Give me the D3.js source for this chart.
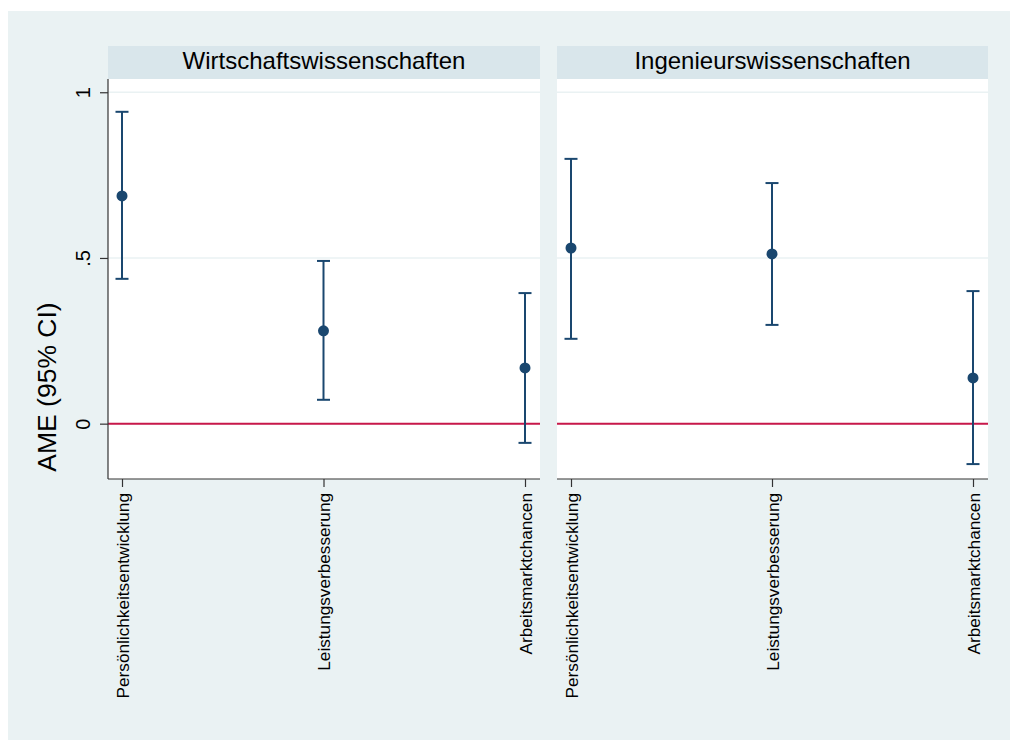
<!DOCTYPE html>
<html><head><meta charset="utf-8">
<script src="https://cdn.jsdelivr.net/npm/d3@7"></script>
<style>body{margin:0;background:#fff}svg{display:block}text{font-family:"Liberation Sans",Arial,sans-serif}</style>
</head><body><svg id="c" width="1010" height="740"></svg>
<script>
const panels = ["Wirtschaftswissenschaften", "Ingenieurswissenschaften"];
const categories = ["Persönlichkeitsentwicklung", "Leistungsverbesserung", "Arbeitsmarktchancen"];
const estWiwi = [0.687, 0.280, 0.168];
const lowWiwi = [0.437, 0.072, -0.058];
const highWiwi = [0.941, 0.491, 0.394];
const estIng = [0.530, 0.512, 0.138];
const lowIng = [0.256, 0.298, -0.122];
const highIng = [0.799, 0.726, 0.400];
const yTicks = [0, 0.5, 1];
const yTickLabels = ["0", ".5", "1"];
const yTitle = "AME (95% CI)";

const series = [
  {est: estWiwi, low: lowWiwi, high: highWiwi},
  {est: estIng, low: lowIng, high: highIng}
];

const svg = d3.select("#c");
const navy = "#1a476f";
svg.append("rect").attr("x", 8).attr("y", 11).attr("width", 1002).attr("height", 729).attr("fill", "#eaf2f3");

const plotTop = 79, plotBottom = 479;
const y = d3.scaleLinear().domain([-0.167, 1.04]).range([plotBottom, plotTop]);
const panelX = [[108, 540], [557, 988]];

panelX.forEach(([x0, x1], pi) => {
  const g = svg.append("g");
  g.append("rect").attr("x", x0).attr("y", 46).attr("width", x1 - x0).attr("height", plotTop - 46).attr("fill", "#d9e6eb");
  g.append("text").attr("x", (x0 + x1) / 2).attr("y", 61).attr("dy", "0.35em").attr("text-anchor", "middle")
    .attr("font-size", 24).attr("fill", "#000").text(panels[pi]);
  g.append("rect").attr("x", x0).attr("y", plotTop).attr("width", x1 - x0).attr("height", plotBottom - plotTop).attr("fill", "#fff");
  g.selectAll(".grid").data(yTicks).join("line")
    .attr("x1", x0).attr("x2", x1).attr("y1", d => y(d)).attr("y2", d => y(d))
    .attr("stroke", "#eaf2f3").attr("stroke-width", 1.5);
  g.append("line").attr("x1", x0).attr("x2", x1).attr("y1", y(0)).attr("y2", y(0))
    .attr("stroke", "#c8184a").attr("stroke-width", 2);

  const x = d3.scalePoint().domain(categories).range([x0 + 14, x1 - 15]);

  const xa = g.append("g").attr("transform", `translate(0,${plotBottom})`)
    .call(d3.axisBottom(x).tickSize(8).tickSizeOuter(0).tickPadding(4));
  xa.select(".domain").attr("stroke", "#333").attr("stroke-width", 1.2).attr("d", `M${x0},0H${x1}`);
  xa.selectAll(".tick line").attr("stroke", "#333").attr("stroke-width", 1.2);
  xa.selectAll(".tick text").attr("font-size", 17.2).attr("fill", "#000").attr("font-family", '"Liberation Sans",Arial,sans-serif')
    .attr("text-anchor", "end").attr("transform", "rotate(-90)").attr("x", -14).attr("y", 0).attr("dy", "0.35em");

  if (pi === 0) {
    const ya = g.append("g").attr("transform", `translate(${x0},0)`)
      .call(d3.axisLeft(y).tickValues(yTicks).tickFormat((d, i) => yTickLabels[i]).tickSize(8).tickSizeOuter(0).tickPadding(4));
    ya.select(".domain").attr("stroke", "#333").attr("stroke-width", 1.2).attr("d", `M0,${plotTop}V${plotBottom}`);
    ya.selectAll(".tick line").attr("stroke", "#333").attr("stroke-width", 1.2);
    ya.selectAll(".tick text").attr("font-size", 20).attr("fill", "#000").attr("font-family", '"Liberation Sans",Arial,sans-serif')
      .attr("text-anchor", "middle").attr("transform", "rotate(-90)").attr("x", 0).attr("y", -25).attr("dy", "0.35em");
  }

  const s = series[pi];
  const data = categories.map((c, i) => ({c, est: s.est[i], low: s.low[i], high: s.high[i]}));
  const cap = 6.5;
  g.selectAll(".ci").data(data).join("line")
    .attr("x1", d => x(d.c)).attr("x2", d => x(d.c)).attr("y1", d => y(d.low)).attr("y2", d => y(d.high))
    .attr("stroke", navy).attr("stroke-width", 2);
  g.selectAll(".capH").data(data).join("line")
    .attr("x1", d => x(d.c) - cap).attr("x2", d => x(d.c) + cap).attr("y1", d => y(d.high)).attr("y2", d => y(d.high))
    .attr("stroke", navy).attr("stroke-width", 2);
  g.selectAll(".capL").data(data).join("line")
    .attr("x1", d => x(d.c) - cap).attr("x2", d => x(d.c) + cap).attr("y1", d => y(d.low)).attr("y2", d => y(d.low))
    .attr("stroke", navy).attr("stroke-width", 2);
  g.selectAll(".pt").data(data).join("circle")
    .attr("cx", d => x(d.c)).attr("cy", d => y(d.est)).attr("r", 5.5).attr("fill", navy);
});

svg.append("text").attr("transform", `translate(47,387) rotate(-90)`)
  .attr("text-anchor", "middle").attr("dy", "0.35em").attr("font-size", 26.5).attr("fill", "#000").text(yTitle);
</script></body></html>
